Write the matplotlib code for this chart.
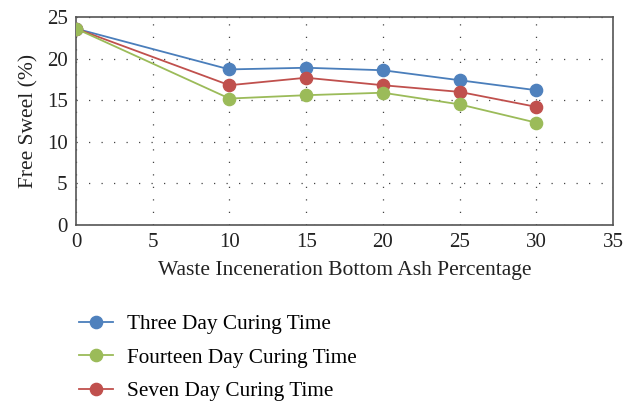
import matplotlib
matplotlib.use("Agg")
import matplotlib.pyplot as plt

x = [0, 10, 15, 20, 25, 30]
three_day = [23.6, 18.7, 18.9, 18.6, 17.4, 16.2]
fourteen_day = [23.6, 15.2, 15.6, 15.9, 14.5, 12.3]
seven_day = [23.6, 16.8, 17.7, 16.8, 16.0, 14.2]
labels = ["Three Day Curing Time", "Fourteen Day Curing Time", "Seven Day Curing Time"]
xticks = [0, 5, 10, 15, 20, 25, 30, 35]
yticks = [0, 5, 10, 15, 20, 25]

plt.rcParams['font.family'] = ['Liberation Serif', 'DejaVu Serif']

fig = plt.figure(figsize=(6.23, 4.04), dpi=100)
ax = fig.add_axes([76/623, 1-225/404, (613-76)/623, (225-17)/404])

series = [
    (three_day, '#4a7ebb', '#4f81bd', 3),
    (fourteen_day, '#9bbb59', '#9bbb59', 5),
    (seven_day, '#c0504d', '#c0504d', 4),
]
handles = []
for vals, lc, mc, z in series:
    h, = ax.plot(x, vals, color=lc, lw=1.3, marker='o', markersize=8.8,
                 markerfacecolor=mc, markeredgecolor=mc, zorder=z)
    handles.append(h)

ax.set_xlim(0, 35)
ax.set_ylim(0, 25)
ax.set_xticks(xticks)
ax.set_yticks(yticks)
ax.tick_params(length=0, labelsize=15, colors='#222222', pad=6)
ax.grid(True, linestyle=(0, (1, 9)), color='#444444', lw=0.9)
for s in ax.spines.values():
    s.set_color('#555555')
    s.set_linewidth(1.2)

ax.set_xlabel("Waste Inceneration Bottom Ash Percentage", fontsize=15.5, color='#222222', labelpad=6)
ax.set_ylabel("Free Sweel (%)", fontsize=15.5, color='#222222', labelpad=6)

fig.legend(handles, labels, loc='upper left', bbox_to_anchor=(70/623, 1-306/404),
           frameon=False, fontsize=15.3, handlelength=1.6, labelspacing=0.64,
           handletextpad=0.7, borderaxespad=0)

fig.savefig("out.png", dpi=100)
